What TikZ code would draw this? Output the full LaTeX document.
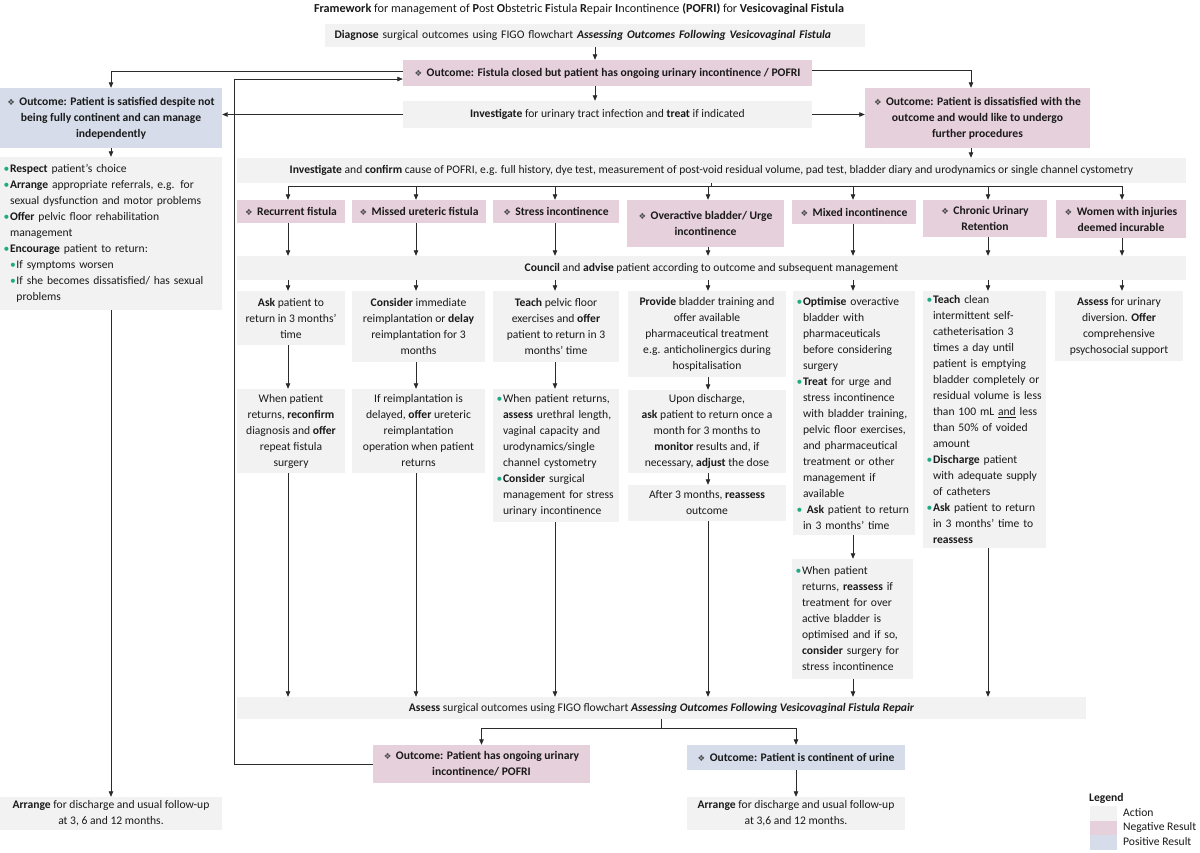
\documentclass[tikz,border=0pt]{standalone}
\usepackage{fontspec}
\setmainfont{Carlito}
\newfontfamily\dingfont{DejaVu Sans}
\usetikzlibrary{arrows.meta,calc}
\definecolor{actc}{HTML}{F2F2F2}
\definecolor{negc}{RGB}{230,208,220}
\definecolor{posc}{RGB}{214,220,234}
\definecolor{bulg}{RGB}{30,170,130}
\definecolor{linec}{HTML}{2B2B2B}
\definecolor{txtc}{HTML}{1A1A1A}
\newcommand{\dia}{{\dingfont\fontsize{8.5}{8.5}\selectfont\textcolor{black!70}{❖}}\hspace{4.5pt}}
\newcommand{\bu}{\makebox[6.5pt][l]{\textcolor{bulg}{\textbullet}}}
\newcommand{\ind}{\hspace*{6.5pt}}
\newcommand{\bubu}{\hspace*{6.5pt}\bu}
\newcommand{\indind}{\hspace*{13pt}}
\newcommand{\bx}[7]{%
 \pgfmathsetmacro\bw{#4-#2}\pgfmathsetmacro\bh{#5-#3}%
 \pgfmathsetmacro\bcx{(#2+#4)/2}\pgfmathsetmacro\bcy{(#3+#5)/2}%
 \node[#6,minimum width=\bw pt,minimum height=\bh pt] (#1) at (\bcx,\bcy) {#7};}
\newcommand{\bxl}[7]{%
 \pgfmathsetmacro\bw{#4-#2}\pgfmathsetmacro\bh{#5-#3}%
 \pgfmathsetmacro\btw{#4-#2-7}%
 \pgfmathsetmacro\bcx{(#2+#4)/2}\pgfmathsetmacro\bcy{(#3+#5)/2}%
 \node[#6,minimum width=\bw pt,minimum height=\bh pt,text width=\btw pt] (#1) at (\bcx,\bcy) {#7};}
\begin{document}
\begin{tikzpicture}[x=1pt,y=-1pt,
 base/.style={inner xsep=3.5pt,inner ysep=1pt,font=\fontsize{11.6}{16}\selectfont,text=txtc},
 act/.style={base,fill=actc,align=center},
 actl/.style={base,fill=actc,align=left},
 negb/.style={base,fill=negc,align=center,font=\fontsize{11.6}{16}\selectfont\bfseries},
 posb/.style={base,fill=posc,align=center,font=\fontsize{11.6}{16}\selectfont\bfseries},
 ln/.style={draw=linec,line width=0.8pt},
 arr/.style={ln,-{Triangle[length=5.5pt,width=4.5pt]}},
]
\useasboundingbox[fill=white] (0,0) rectangle (1200,852);

\node[base,font=\fontsize{12.2}{14}\selectfont] (title) at (579,9) {\textbf{Framework} for management of \textbf{P}ost \textbf{O}bstetric \textbf{F}istula \textbf{R}epair \textbf{I}ncontinence \textbf{(POFRI)} for \textbf{Vesicovaginal Fistula}};

\bxl{diag}{325}{24}{865}{47}{actl}{\hspace*{6pt}\textbf{Diagnose} surgical outcomes using FIGO flowchart \textbf{\textit{Assessing Outcomes Following Vesicovaginal Fistula}}}
\bx{out1}{403}{60}{812}{86}{negb}{\dia Outcome: Fistula closed but patient has ongoing urinary incontinence / POFRI}
\bx{uti}{403}{101}{812}{128}{act}{\textbf{Investigate} for urinary tract infection and \textbf{treat} if indicated}
\bx{sat}{0}{88}{222}{148}{posb}{\dia Outcome: Patient is satisfied despite not\\ being fully continent and can manage\\ independently}
\bx{dis}{865}{88}{1090}{148}{negb}{\dia Outcome: Patient is dissatisfied with the\\ outcome and would like to undergo\\ further procedures}

\bxl{satact}{0}{157}{222}{310}{actl}{%
\bu\mbox{\textbf{Respect} patient’s choice}\\
\bu\mbox{\textbf{Arrange} appropriate referrals, e.g. for}\\
\ind\mbox{sexual dysfunction and motor problems}\\
\bu\mbox{\textbf{Offer} pelvic floor rehabilitation}\\
\ind\mbox{management}\\
\bu\mbox{\textbf{Encourage} patient to return:}\\
\bubu\mbox{If symptoms worsen}\\
\bubu\mbox{If she becomes dissatisfied/ has sexual}\\
\indind\mbox{problems}}
\bx{arrl}{0}{797}{222}{830}{act}{\textbf{Arrange} for discharge and usual follow-up\\ at 3, 6 and 12 months.}

\bx{inv2}{237}{158}{1186}{183}{act}{\textbf{Investigate} and \textbf{confirm} cause of POFRI, e.g. full history, dye test, measurement of post-void residual volume, pad test, bladder diary and urodynamics or single channel cystometry}

\bx{rec}{237}{200}{345}{223}{negb}{\dia Recurrent fistula}
\bx{mis}{352}{200}{486}{223}{negb}{\dia Missed ureteric fistula}
\bx{str}{493}{200}{619}{223}{negb}{\dia Stress incontinence}
\bx{ovr}{627}{200}{784}{247}{negb}{\dia Overactive bladder/ Urge\\ incontinence}
\bx{mix}{792}{200}{916}{224}{negb}{\dia Mixed incontinence}
\bx{chr}{923}{200}{1047}{237}{negb}{\dia Chronic Urinary\\ Retention}
\bx{wom}{1056}{200}{1186}{238}{negb}{\dia Women with injuries\\ deemed incurable}

\bx{council}{237}{256}{1186}{280}{act}{\textbf{Council} and \textbf{advise} patient according to outcome and subsequent management}

\bx{a1}{237}{291}{345}{345}{act}{\textbf{Ask} patient to\\ return in 3 months’\\ time}
\bx{a2}{352}{291}{485}{362}{act}{\textbf{Consider} immediate\\ reimplantation or \textbf{delay}\\ reimplantation for 3\\ months}
\bx{a3}{493}{291}{619}{362}{act}{\textbf{Teach} pelvic floor\\ exercises and \textbf{offer}\\ patient to return in 3\\ months’ time}
\bx{a4}{628}{291}{786}{377}{act}{\textbf{Provide} bladder training and\\ offer available\\ pharmaceutical treatment\\ e.g. anticholinergics during\\ hospitalisation}
\bxl{a5}{793}{291}{915}{535}{actl}{%
\bu\mbox{\textbf{Optimise} overactive}\\
\ind\mbox{bladder with}\\
\ind\mbox{pharmaceuticals}\\
\ind\mbox{before considering}\\
\ind\mbox{surgery}\\
\bu\mbox{\textbf{Treat} for urge and}\\
\ind\mbox{stress incontinence}\\
\ind\mbox{with bladder training,}\\
\ind\mbox{pelvic floor exercises,}\\
\ind\mbox{and pharmaceutical}\\
\ind\mbox{treatment or other}\\
\ind\mbox{management if}\\
\ind\mbox{available}\\
\bu\mbox{\ \textbf{Ask} patient to return}\\
\ind\mbox{in 3 months’ time}}
\bxl{a6}{923}{291}{1046}{548}{actl}{%
\bu\mbox{\textbf{Teach} clean}\\
\ind\mbox{intermittent self-}\\
\ind\mbox{catheterisation 3}\\
\ind\mbox{times a day until}\\
\ind\mbox{patient is emptying}\\
\ind\mbox{bladder completely or}\\
\ind\mbox{residual volume is less}\\
\ind\mbox{than 100 mL \underline{and} less}\\
\ind\mbox{than 50\% of voided}\\
\ind\mbox{amount}\\
\bu\mbox{\textbf{Discharge} patient}\\
\ind\mbox{with adequate supply}\\
\ind\mbox{of catheters}\\
\bu\mbox{\textbf{Ask} patient to return}\\
\ind\mbox{in 3 months’ time to}\\
\ind\mbox{\textbf{reassess}}}
\bx{a7}{1055}{291}{1183}{361}{act}{\textbf{Assess} for urinary\\ diversion. \textbf{Offer}\\ comprehensive\\ psychosocial support}

\bx{b1}{237}{389}{345}{473}{act}{When patient\\ returns, \textbf{reconfirm}\\ diagnosis and \textbf{offer}\\ repeat fistula\\ surgery}
\bx{b2}{352}{389}{485}{473}{act}{If reimplantation is\\ delayed, \textbf{offer} ureteric\\ reimplantation\\ operation when patient\\ returns}
\bxl{b3}{493}{389}{619}{522}{actl}{%
\bu\mbox{When patient returns,}\\
\ind\mbox{\textbf{assess} urethral length,}\\
\ind\mbox{vaginal capacity and}\\
\ind\mbox{urodynamics/single}\\
\ind\mbox{channel cystometry}\\
\bu\mbox{\textbf{Consider} surgical}\\
\ind\mbox{management for stress}\\
\ind\mbox{urinary incontinence}}
\bx{b4}{628}{390}{786}{473}{act}{Upon discharge,\\ \textbf{ask} patient to return once a\\ month for 3 months to\\ \textbf{monitor} results and, if\\ necessary, \textbf{adjust} the dose}
\bx{b4b}{628}{485}{786}{521}{act}{After 3 months, \textbf{reassess}\\ outcome}
\bxl{b5}{792}{559}{913}{679}{actl}{%
\bu\mbox{When patient}\\
\ind\mbox{returns, \textbf{reassess} if}\\
\ind\mbox{treatment for over}\\
\ind\mbox{active bladder is}\\
\ind\mbox{optimised and if so,}\\
\ind\mbox{\textbf{consider} surgery for}\\
\ind\mbox{stress incontinence}}

\bx{assess}{237}{697}{1086}{719}{act}{\textbf{Assess} surgical outcomes using FIGO flowchart \textbf{\textit{Assessing Outcomes Following Vesicovaginal Fistula Repair}}}
\bx{negout}{373}{745}{590}{783}{negb}{\dia Outcome: Patient has ongoing urinary\\ incontinence/ POFRI}
\bx{posout}{687}{745}{905}{770}{posb}{\dia Outcome: Patient is continent of urine}
\bx{arrr}{687}{797}{905}{830}{act}{\textbf{Arrange} for discharge and usual follow-up\\ at 3,6 and 12 months.}

% legend
\node[base,font=\fontsize{11.6}{13}\selectfont\bfseries,anchor=base west,inner sep=0pt] (legt) at (1089,801) {Legend};
\node[fill=actc,minimum width=27pt,minimum height=14.5pt,inner sep=0pt,anchor=north west] (lg1) at (1090,806) {};
\node[fill=negc,minimum width=27pt,minimum height=14.5pt,inner sep=0pt,anchor=north west] (lg2) at (1090,820.5) {};
\node[fill=posc,minimum width=27pt,minimum height=14.5pt,inner sep=0pt,anchor=north west] (lg3) at (1090,835) {};
\node[base,anchor=west,inner sep=0pt] (lt1) at (1123,813) {Action};
\node[base,anchor=west,inner sep=0pt] (lt2) at (1123,827.5) {Negative Result};
\node[base,anchor=west,inner sep=0pt] (lt3) at (1123,842) {Positive Result};

% coordinates
\coordinate (upY) at (0,71);
\coordinate (rY) at (0,70);
\coordinate (cd) at (971,0);
\coordinate (retTop) at (234,79);
\coordinate (bus) at (0,186);
\coordinate (split) at (661,728);
\coordinate (c1) at (288,0);
\coordinate (c2) at (416,0);
\coordinate (c3) at (555,0);
\coordinate (c4) at (708,0);
\coordinate (c5) at (853,0);
\coordinate (c6) at (988,0);
\coordinate (c7) at (1122,0);

% top connectors
\draw[arr] (diag.south) -- (diag.south |- out1.north);
\draw[arr] (diag.south |- out1.south) -- (diag.south |- uti.north);
\draw[arr] (out1.west |- upY) -| (sat.north);
\draw[arr] (out1.east |- rY) -| (cd |- dis.north);
\draw[arr] (uti.west) -- (sat.east |- uti.west);
\draw[arr] (uti.east) -- (dis.west |- uti.east);
\draw[arr] (sat.south) -- (satact.north);
\draw[arr] (satact.south) -- (arrl.north);
\draw[arr] (cd |- dis.south) -- (cd |- inv2.north);

% bus
\draw[ln] (inv2.south) -- (inv2.south |- bus);
\draw[ln] (c1 |- bus) -- (c7 |- bus);
\foreach \n/\c in {rec/c1,mis/c2,str/c3,ovr/c4,mix/c5,chr/c6,wom/c7}{
  \draw[arr] (\c |- bus) -- (\c |- \n.north);
  \draw[arr] (\c |- \n.south) -- (\c |- council.north);
}
\foreach \n/\c in {a1/c1,a2/c2,a3/c3,a4/c4,a5/c5,a6/c6,a7/c7}{
  \draw[arr] (\c |- council.south) -- (\c |- \n.north);
}
\draw[arr] (c1 |- a1.south) -- (c1 |- b1.north);
\draw[arr] (c2 |- a2.south) -- (c2 |- b2.north);
\draw[arr] (c3 |- a3.south) -- (c3 |- b3.north);
\draw[arr] (c4 |- a4.south) -- (c4 |- b4.north);
\draw[arr] (c4 |- b4.south) -- (c4 |- b4b.north);
\draw[arr] (c5 |- a5.south) -- (c5 |- b5.north);
\draw[arr] (c1 |- b1.south) -- (c1 |- assess.north);
\draw[arr] (c2 |- b2.south) -- (c2 |- assess.north);
\draw[arr] (c3 |- b3.south) -- (c3 |- assess.north);
\draw[arr] (c4 |- b4b.south) -- (c4 |- assess.north);
\draw[arr] (c5 |- b5.south) -- (c5 |- assess.north);
\draw[arr] (c6 |- a6.south) -- (c6 |- assess.north);

% bottom
\draw[ln] (split |- assess.south) -- (split);
\draw[arr] (split) -| (negout.north);
\draw[arr] (split) -| (posout.north);
\draw[arr] (posout.south) -- (arrr.north);
\draw[arr] (negout.west) -| (retTop) -- (out1.west |- retTop);
\end{tikzpicture}
\end{document}
